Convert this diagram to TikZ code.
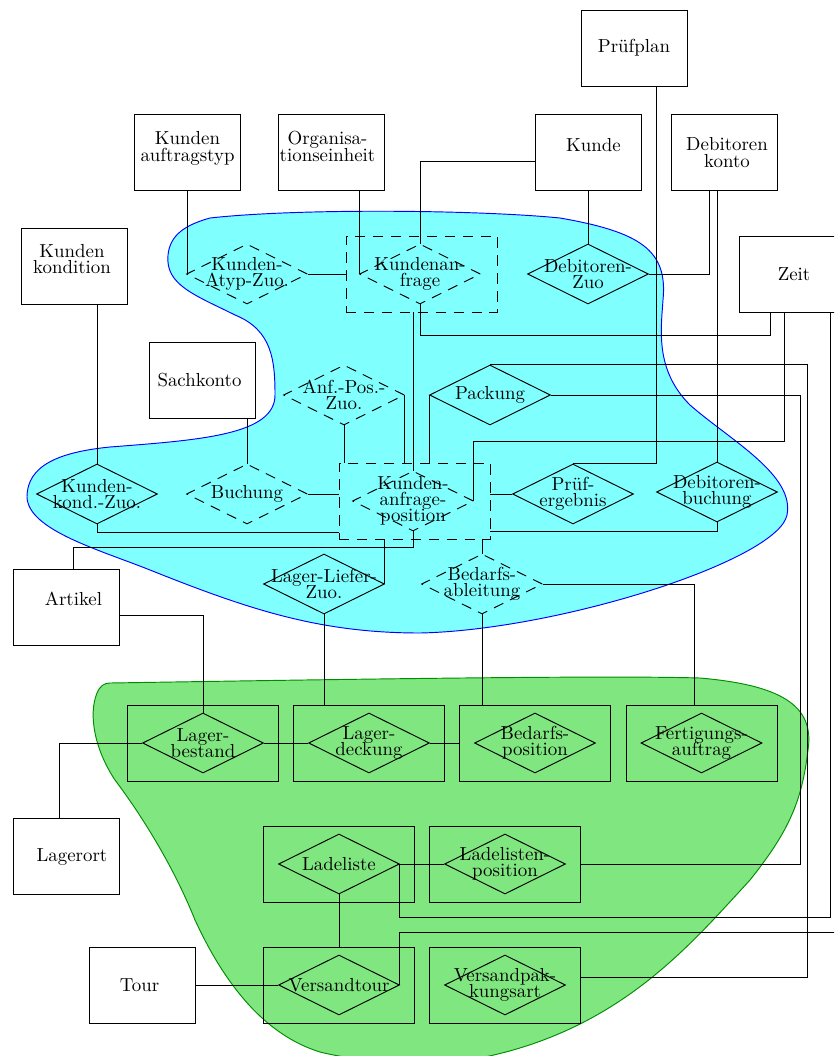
\documentclass[tikz,border=0pt]{standalone}
\usetikzlibrary{shapes.geometric,calc}
% one unit = one pixel of the drawing grid
\newlength\px \setlength\px{0.53pt}
\newsavebox\mvbox
% centred lines with a fixed, tight line pitch
\newcommand\stack[1]{\vbox{\let\\\cr\baselineskip=8.6pt\lineskiplimit=-20pt\halign{\hfil##\hfil\cr#1\crcr}}}
% shift text inside a box: #1 = twice the right shift, #2 = lift (grid units)
\newcommand\mv[3]{\sbox\mvbox{#3}\hspace*{#1\px}\usebox\mvbox\rule[-\dimexpr\dp\mvbox+#2\px+#2\px\relax]{0pt}{\dimexpr\dp\mvbox+#2\px+#2\px\relax}}
\tikzset{
  ent/.style={draw, rectangle, inner sep=0pt, minimum width=56.2pt, minimum height=40.3pt},
  rel/.style={draw, diamond, inner sep=0pt, minimum width=64.1pt, minimum height=31.8pt},
  drel/.style={rel, dash pattern=on 5.5pt off 4pt},
  wbox/.style={draw, rectangle, inner sep=0pt, minimum width=80pt, minimum height=40.3pt},
  dbox/.style={wbox, dash pattern=on 5.5pt off 4pt},
  blobA/.style={draw=blue, line width=0.5pt, fill={rgb,255:red,128;green,255;blue,255}},
  blobB/.style={draw={rgb,255:red,0;green,140;blue,0}, line width=0.5pt, fill={rgb,255:red,128;green,230;blue,128}},
}
\begin{document}
\begin{tikzpicture}[x=0.53pt, y=-0.53pt, line width=0.5pt, font=\fontsize{10}{8.6}\selectfont]
\useasboundingbox (0,0) rectangle (834,1056);
\clip (0,0) rectangle (834,1056);

% upper area
\path[blobA] (210,218)
  .. controls (300,208) and (480,210) .. (560,218)
  .. controls (640,232) and (668,250) .. (663,300)
  .. controls (661,330) and (655,370) .. (690,405)
  .. controls (730,440) and (795,475) .. (787,515)
  .. controls (778,560) and (560,630) .. (420,633)
  .. controls (320,633) and (250,610) .. (150,570)
  .. controls (100,550) and (28,530) .. (27,497)
  .. controls (27,465) and (60,452) .. (110,447)
  .. controls (200,440) and (275,435) .. (275,395)
  .. controls (275,360) and (272,330) .. (235,315)
  .. controls (195,295) and (165,285) .. (168,255)
  .. controls (170,235) and (185,225) .. (210,218) -- cycle;

% lower area
\path[blobB] (110,683)
  .. controls (300,680) and (600,675) .. (700,678)
  .. controls (780,685) and (815,705) .. (808,750)
  .. controls (802,800) and (790,830) .. (750,880)
  .. controls (690,945) and (620,1030) .. (480,1058)
  .. controls (420,1066) and (360,1062) .. (320,1052)
  .. controls (265,1035) and (225,985) .. (195,920)
  .. controls (175,870) and (145,820) .. (115,780)
  .. controls (95,750) and (88,715) .. (97,693)
  .. controls (100,686) and (104,683) .. (110,683) -- cycle;

% entities
\node[ent] (pp)    at (634,48)      {Prüfplan};
\node[ent] (kat)   at (187.5,152.5) {\mv{0}{4}{\stack{Kunden\\auftragstyp}}};
\node[ent] (org)   at (331,152.5)   {\mv{-7}{6}{\stack{Organisa-\\tionseinheit}}};
\node[ent] (kunde) at (588,152.5)   {\mv{11}{7}{Kunde}};
\node[ent] (dk)    at (724,152.5)   {\mv{6}{0}{\stack{Debitoren\\konto}}};
\node[ent] (kk)    at (74,266.5)    {\mv{-4}{7.5}{\stack{Kunden\\kondition}}};
\node[ent] (zeit)  at (792,274.5)   {\mv{4}{0}{Zeit}};
\node[ent] (sk)    at (202,380)     {\mv{-5}{0}{Sachkonto}};
\node[ent] (art)   at (66,607)      {\mv{15}{8}{Artikel}};
\node[ent] (lo)    at (66,856.5)    {\mv{12}{0}{Lagerort}};
\node[ent] (tour)  at (142,985)     {\mv{-5}{0}{Tour}};

% relationships in the upper area
\node[drel, label={center:\stack{Kunden-\\Atyp-Zuo.}}] (kaz) at (247,274) {};
\node[dbox] (kafb) at (421.5,274) {};
\node[drel, label={center:\stack{Kundenan-\\frage}}] (kaf) at (420,274) {};
\node[rel, label={center:\stack{Debitoren-\\Zuo}}] (dz) at (588,274) {};
\node[drel, label={center:\stack{Anf.-Pos.-\\Zuo.}}] (apz) at (344,395) {};
\node[rel, label={center:Packung}] (pack) at (490,395) {};
\node[rel, label={center:\stack{Kunden-\\kond.-Zuo.}}] (kkz) at (97,494) {};
\node[drel, label={center:Buchung}] (buch) at (247,494) {};
\node[dbox] (kapb) at (414.5,501) {};
\node[drel, label={center:\stack{Kunden-\\anfrage-\\position}}] (kap) at (413,501) {};
\node[rel, label={center:\stack{Prüf-\\ergebnis}}] (pe) at (573,494) {};
\node[rel, label={center:\stack{Debitoren-\\buchung}}] (db) at (717,492) {};
\node[rel, label={center:\stack{Lager-Liefer-\\Zuo.}}] (llz) at (324,584) {};
\node[drel, label={center:\stack{Bedarfs-\\ableitung}}] (ba) at (482,584) {};

% boxed relationships in the lower area
\node[wbox] (lbb) at (202.5,743) {};
\node[rel, label={center:\stack{Lager-\\bestand}}] (lb) at (203,743) {};
\node[wbox] (ldb) at (368.5,743) {};
\node[rel, label={center:\stack{Lager-\\deckung}}] (ld) at (369,743) {};
\node[wbox] (bpb) at (535,743) {};
\node[rel, label={center:\stack{Bedarfs-\\position}}] (bp) at (535,743) {};
\node[wbox] (fab) at (701.5,743) {};
\node[rel, label={center:\stack{Fertigungs-\\auftrag}}] (fa) at (701.5,743) {};
\node[wbox] (llb) at (338.5,864) {};
\node[rel, label={center:Ladeliste}] (ll) at (339,864) {};
\node[wbox] (llpb) at (504.5,864) {};
\node[rel, label={center:\stack{Ladelisten-\\position}}] (llp) at (505,864) {};
\node[wbox] (vtb) at (338.5,985) {};
\node[rel, label={center:Versandtour}] (vt) at (339,985) {};
\node[wbox] (vpab) at (504.5,985) {};
\node[rel, label={center:\stack{Versandpak-\\kungsart}}] (vpa) at (505,985) {};

% connectors
\draw (kat.south) -- (kat.south |- kaz.west);
\draw (kaz.east) -- (kafb.west);
\draw (kaf.west |- org.south) -- (kaf.west);
\draw ($(kunde.west)+(0,8.5)$) -| (kaf.north);
\draw (kunde.south) -- (dz.north);
\draw (dz.east) -| ($(dk.south)+(-15,0)$);
\draw (db.north |- dk.south) -- (db.north);
\draw ($(pp.south)+(22,0)$) |- (pe.north);
\draw (kaf.south) -- ++(0,31) -| ($(zeit.south)+(-22,0)$);
\draw ($(zeit.south)+(-8,0)$) -- ++(0,128) -| (kap.east);
\draw (ll.east) -- ++(0,53) -| ($(zeit.south)+(38,0)$);
\draw (vt.east) -- ++(0,-53) -| ($(zeit.south)+(48,0)$);
\draw (pack.north) -| ($(vpab.east)+(227,-8)$) -- ($(vpab.east)+(0,-8)$);
\draw (pack.east) -| ($(llpb.east)+(220,0)$) -- (llpb.east);
\draw (pack.west) -- (pack.west |- kapb.north);
\draw (kafb.south -| kap.north) -- (kap.north);
\draw (apz.east) -- (apz.east |- kapb.north);
\draw (apz.south) -- (apz.south |- kapb.north);
\draw (buch.east) -- (buch.east -| kapb.west);
\draw (buch.north |- sk.south) -- (buch.north);
\draw (kkz.north |- kk.south) -- (kkz.north);
\draw (kkz.south) |- ($(kapb.south west)+(0,-7)$);
\draw (kap.south) -- ++(0,16) -| ($(art.north)+(7,0)$);
\draw ($(art.east)+(0,8)$) -| (lb.north);
\draw (llz.east |- kapb.south) -- (llz.east);
\draw (llz.south) -- (llz.south |- ldb.north);
\draw (pe.west) -- (pe.west -| kapb.east);
\draw (db.south) |- ($(kapb.south east)+(0,-8)$);
\draw (ba.north |- kapb.south) -- (ba.north);
\draw (ba.east) -| ($(fab.north)+(-7.5,0)$);
\draw (ba.south) -- (ba.south |- bpb.north);
\draw (lb.west) -| ($(lo.north)+(-7,0)$);
\draw (lb.east) -- (ld.west);
\draw (ld.east) -- (bpb.west);
\draw (ll.east) -- (llp.west);
\draw (ll.south) -- (ll.south |- vtb.north);
\draw (tour.east) -- (vt.west);
\end{tikzpicture}
\end{document}
